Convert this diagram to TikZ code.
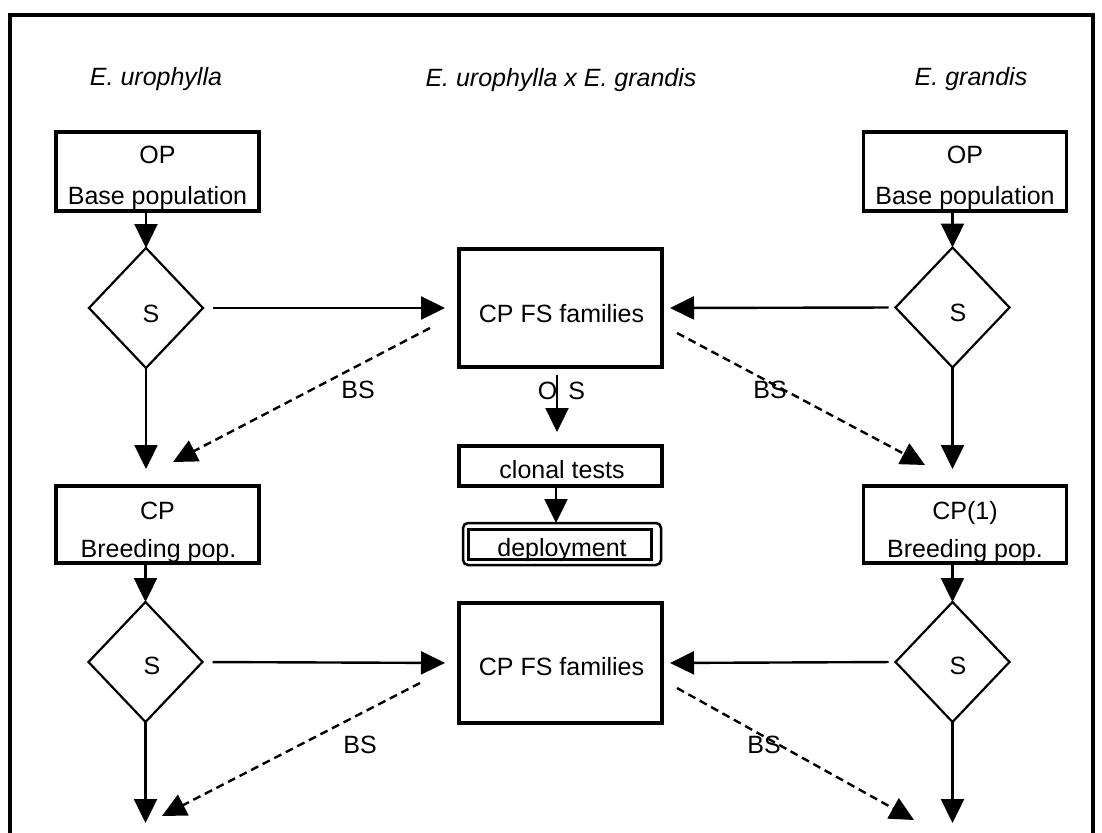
\documentclass[tikz,border=0pt]{standalone}
\usepackage{fontspec}
\setmainfont{Liberation Sans}
\usetikzlibrary{arrows.meta,shapes.geometric,calc}
\begin{document}
\begin{tikzpicture}[x=1pt,y=-1pt,
  txt/.style={font=\fontsize{25}{30}\selectfont, inner sep=0pt, anchor=base},
  ttl/.style={font=\fontsize{25}{30}\selectfont\itshape, inner sep=0pt, anchor=base},
  thickbox/.style={draw, line width=3.5pt, inner sep=0pt, outer sep=0pt, minimum width=203pt},
  dia/.style={draw, diamond, line width=2.2pt, inner sep=0pt, outer sep=0pt, minimum width=114pt, minimum height=120pt},
  arr/.style={line width=2.4pt, -{Triangle[length=24pt,width=23pt]}},
  darr/.style={line width=2.4pt, dash pattern=on 8pt off 5pt, -{Triangle[length=24pt,width=23pt]}},
]
\useasboundingbox (0,0) rectangle (1102,832);
% frame
\draw[line width=4pt, line join=miter] (10,840) -- (10,15) -- (1093,15) -- (1093,840);

% titles
\node[ttl] (tl) at (156,86) {E. urophylla};
\node[ttl] (tc) at (561,87) {E. urophylla x E. grandis};
\node[ttl] (tr) at (971,86) {E. grandis};

% top boxes
\node[thickbox, minimum height=79pt] (opL) at (157.5,171.5) {};
\node[thickbox, minimum height=79pt] (opR) at (965,171.5) {};
\node[txt] (opLa) at (157.5,163) {OP};
\node[txt] (opLb) at (157.5,204) {Base population};
\node[txt] (opRa) at (965,163) {OP};
\node[txt] (opRb) at (965,204) {Base population};

% diamonds row 1
\node[dia] (dL1) at (146,308) {};
\node[dia] (dR1) at (952.5,307.5) {};
\node[txt] (sL1) at (151,322) {S};
\node[txt] (sR1) at (958,321) {S};

% centre boxes
\node[thickbox, minimum height=118pt] (cp1) at (560.5,308) {};
\node[txt] (cp1t) at (561.5,322) {CP FS families};
\node[txt] (os) at (561.5,399) {O\hspace{11pt}S};
\node[thickbox, minimum height=40pt] (ct) at (560.5,466) {};
\node[txt] (ctt) at (562,478) {clonal tests};
\node[draw, line width=2.5pt, rounded corners=5pt, minimum width=198pt, minimum height=42pt, inner sep=0pt, outer sep=0pt] (dep) at (562,544) {};
\node[draw, line width=3pt, minimum width=183pt, minimum height=30pt, inner sep=0pt, outer sep=0pt] (depin) at (560,544) {};
\node[txt] (dept) at (562,556) {deployment};

% breeding boxes
\node[thickbox, minimum height=77pt] (cpL) at (157.5,524.5) {};
\node[thickbox, minimum height=77pt] (cpR) at (965,524.5) {};
\node[txt] (cpLa) at (157.5,519) {CP};
\node[txt] (cpLb) at (158.5,557) {Breeding pop.};
\node[txt] (cpRa) at (965,519) {CP(1)};
\node[txt] (cpRb) at (965,557) {Breeding pop.};

% diamonds row 2
\node[dia] (dL2) at (145.5,662) {};
\node[dia] (dR2) at (952.5,662) {};
\node[txt] (sL2) at (152,674) {S};
\node[txt] (sR2) at (958,674) {S};

% lower centre box
\node[thickbox, minimum height=120pt] (cp2) at (560.5,663) {};
\node[txt] (cp2t) at (561.5,675) {CP FS families};

% BS labels
\node[txt] (bs1) at (358,398) {BS};
\node[txt] (bs2) at (770,398) {BS};
\node[txt] (bs3) at (360,753) {BS};
\node[txt] (bs4) at (764,753) {BS};

% free ends
\coordinate (endL) at (145.5,823);
\coordinate (endR) at (952.5,823);
\coordinate (d1s) at (430,328);
\coordinate (d1e) at (173,462);
\coordinate (d2s) at (677,333);
\coordinate (d2e) at (925,465);
\coordinate (d3s) at (420,683);
\coordinate (d3e) at (162,816);
\coordinate (d4s) at (677,688);
\coordinate (d4e) at (914,820);

% connectors
\draw[arr] (opL.south -| dL1.north) -- (dL1.north);
\draw[arr] (opR.south -| dR1.north) -- (dR1.north);
\draw[arr, shorten <=10pt, shorten >=14pt] (dL1.east) -- (cp1.west);
\draw[arr, shorten <=7pt, shorten >=8pt] (dR1.west) -- (cp1.east);
\draw[arr, shorten >=17pt] (dL1.south) -- (dL1.south |- cpL.north);
\draw[arr, shorten >=17pt] (dR1.south) -- (dR1.south |- cpR.north);
\draw[arr, shorten <=8pt, shorten >=14pt] ([xshift=-3.5pt]cp1.south) -- ([xshift=-3.5pt]ct.north);
\draw[arr] ([xshift=-4.5pt]ct.south) -- ([xshift=-6pt]dep.north);
\draw[arr] (cpL.south -| dL2.north) -- (dL2.north);
\draw[arr] (cpR.south -| dR2.north) -- (dR2.north);
\draw[arr, shorten <=10pt, shorten >=14pt] (dL2.east) -- (cp2.west);
\draw[arr, shorten <=7pt, shorten >=8pt] (dR2.west) -- (cp2.east);
\draw[arr] (dL2.south) -- (endL);
\draw[arr] (dR2.south) -- (endR);
\draw[darr] (d1s) -- (d1e);
\draw[darr] (d2s) -- (d2e);
\draw[darr] (d3s) -- (d3e);
\draw[darr] (d4s) -- (d4e);
\end{tikzpicture}
\end{document}
